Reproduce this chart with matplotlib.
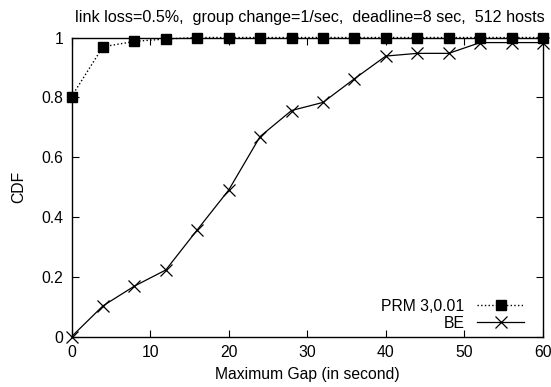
import matplotlib
matplotlib.use("Agg")
import matplotlib.pyplot as plt

x_vals = [0, 4, 8, 12, 16, 20, 24, 28, 32, 36, 40, 44, 48, 52, 56, 60]
prm = [0.802, 0.969, 0.987, 0.995, 1.0, 1.0, 1.0, 1.0, 1.0, 1.0, 1.0, 1.0, 1.0, 1.0, 1.0, 1.0]
be = [0.0, 0.103, 0.169, 0.223, 0.357, 0.49, 0.669, 0.756, 0.783, 0.862, 0.938, 0.947, 0.947, 0.983, 0.983, 0.983]
xticks = [0, 10, 20, 30, 40, 50, 60]
yticks = [0, 0.2, 0.4, 0.6, 0.8, 1]
ytick_labels = ["0", "0.2", "0.4", "0.6", "0.8", "1"]

plt.rcParams['font.family'] = ['Liberation Sans', 'DejaVu Sans']
fs = 11.3

fig = plt.figure(figsize=(5.51, 3.87), dpi=100)
ax = fig.add_axes([71.5/551, 1 - 336.7/387, (543 - 71.5)/551, (336.7 - 37.5)/387])

ax.plot(x_vals, prm, linestyle=':', color='black', linewidth=1.0, marker='s',
        markersize=6.8, markerfacecolor='black', markeredgecolor='black',
        label='PRM 3,0.01', clip_on=False, zorder=4)
ax.plot(x_vals, be, linestyle='-', color='black', linewidth=0.9, marker='x',
        markersize=8, markeredgewidth=0.9, label='BE', clip_on=False, zorder=3)

ax.set_xlim(0, 60)
ax.set_ylim(0, 1)
ax.set_xticks(xticks)
ax.set_yticks(yticks)
ax.set_yticklabels(ytick_labels)
ax.tick_params(direction='in', top=True, right=True, length=5, width=0.8,
               labelsize=fs)
ax.tick_params(axis='y', pad=6)
ax.tick_params(axis='x', pad=6)
for s in ax.spines.values():
    s.set_linewidth(1.0)

ax.set_xlabel('Maximum Gap (in second)', fontsize=fs, labelpad=5)
ax.set_ylabel('CDF', fontsize=fs, labelpad=11)
ax.set_title('link loss=0.5%,  group change=1/sec,  deadline=8 sec,  512 hosts',
             fontsize=11.6, pad=11, x=0.505)

leg = ax.legend(loc='lower right', bbox_to_anchor=(0.96, 0.02), frameon=False,
                markerfirst=False, handlelength=3.0, fontsize=fs,
                borderaxespad=0, borderpad=0, labelspacing=0.12,
                handletextpad=0.8)
for t in leg.get_texts():
    t.set_ha('right')

fig.savefig('out.png', dpi=100)
